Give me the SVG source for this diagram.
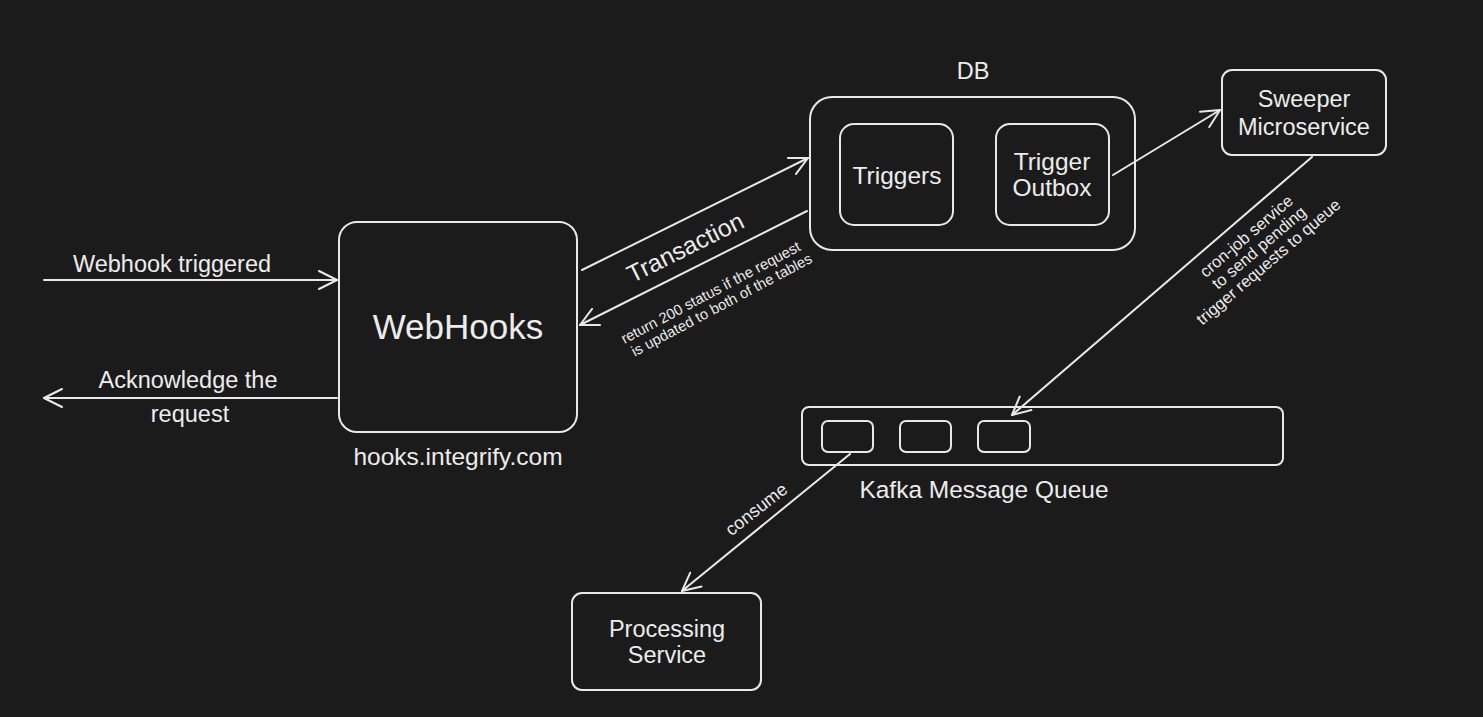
<svg xmlns="http://www.w3.org/2000/svg" width="1483" height="717" viewBox="0 0 1483 717">
<defs>
<style>
.box{fill:none;stroke:#e8e8e8;stroke-width:2}
.ln{fill:none;stroke:#e8e8e8;stroke-width:2;stroke-linecap:round}
.t{font-family:"Liberation Sans",Arial,sans-serif;fill:#ececec;text-anchor:middle}
</style>
<marker id="ah" viewBox="0 0 20 20" refX="19" refY="10" markerWidth="20" markerHeight="20" markerUnits="userSpaceOnUse" orient="auto">
<path d="M1,1 L19,10 L1,19" fill="none" stroke="#e8e8e8" stroke-width="2" stroke-linecap="round" stroke-linejoin="round"/>
</marker>
</defs>
<rect width="1483" height="717" fill="#1b1b1b"/>

<g id="connectors">
<line class="ln" x1="44" y1="280" x2="337" y2="280" marker-end="url(#ah)"/>
<text class="t" x="172" y="272" font-size="23.5">Webhook triggered</text>
<line class="ln" x1="337" y1="398" x2="44" y2="398" marker-end="url(#ah)"/>
<text class="t" x="188" y="388" font-size="23.5">Acknowledge the</text>
<text class="t" x="190" y="422" font-size="23.5">request</text>

<line class="ln" x1="582" y1="270" x2="808" y2="158" marker-end="url(#ah)"/>
<text class="t" font-size="24.5" transform="translate(689,255) rotate(-26.5)">Transaction</text>
<line class="ln" x1="807" y1="211" x2="580" y2="325" marker-end="url(#ah)"/>
<g transform="translate(713,297) rotate(-28)">
<text class="t" x="0" y="0" font-size="14.8">return 200 status if the request</text>
<text class="t" x="4" y="16" font-size="14.8">is updated to both of the tables</text>
</g>

<line class="ln" x1="1113" y1="175" x2="1220" y2="110" marker-end="url(#ah)"/>

<line class="ln" x1="1312" y1="157" x2="1012" y2="415" marker-end="url(#ah)"/>
<g transform="translate(1259,251) rotate(-40.5)">
<text class="t" x="0" y="-14" font-size="16.5">cron-job service</text>
<text class="t" x="2" y="3" font-size="16.5">to send pending</text>
<text class="t" x="0" y="20" font-size="16.5">trigger requests to queue</text>
</g>

<line class="ln" x1="850" y1="454" x2="682" y2="591" marker-end="url(#ah)"/>
<text class="t" font-size="18" transform="translate(760,514) rotate(-38)">consume</text>
</g>

<g id="webhooks">
<rect class="box" x="339" y="222" width="238" height="210" rx="18"/>
<text class="t" x="458" y="339" font-size="35">WebHooks</text>
<text class="t" x="458" y="465" font-size="24.5">hooks.integrify.com</text>
</g>

<g id="db">
<rect class="box" x="810" y="97" width="325" height="153" rx="22"/>
<text class="t" x="973" y="79" font-size="23.5">DB</text>
</g>
<g id="triggers">
<rect class="box" x="840" y="124" width="113" height="101" rx="14"/>
<text class="t" x="897" y="184" font-size="24.5">Triggers</text>
</g>
<g id="trigger-outbox">
<rect class="box" x="996" y="124" width="113" height="101" rx="14"/>
<text class="t" x="1052" y="170" font-size="24.5">Trigger</text>
<text class="t" x="1052" y="196" font-size="24.5">Outbox</text>
</g>
<g id="sweeper">
<rect class="box" x="1222" y="70" width="164" height="85" rx="10"/>
<text class="t" x="1304" y="107" font-size="23.5">Sweeper</text>
<text class="t" x="1304" y="135" font-size="23.5">Microservice</text>
</g>
<g id="kafka">
<rect class="box" x="802" y="407" width="481" height="58" rx="7"/>
<rect class="box" x="822" y="421" width="51" height="31" rx="6"/>
<rect class="box" x="900" y="421" width="51" height="31" rx="6"/>
<rect class="box" x="978" y="421" width="52" height="31" rx="6"/>
<text class="t" x="984" y="498" font-size="24.5">Kafka Message Queue</text>
</g>
<g id="processing">
<rect class="box" x="572" y="593" width="189" height="97" rx="10"/>
<text class="t" x="667" y="637" font-size="23.5">Processing</text>
<text class="t" x="667" y="663" font-size="23.5">Service</text>
</g>
</svg>
